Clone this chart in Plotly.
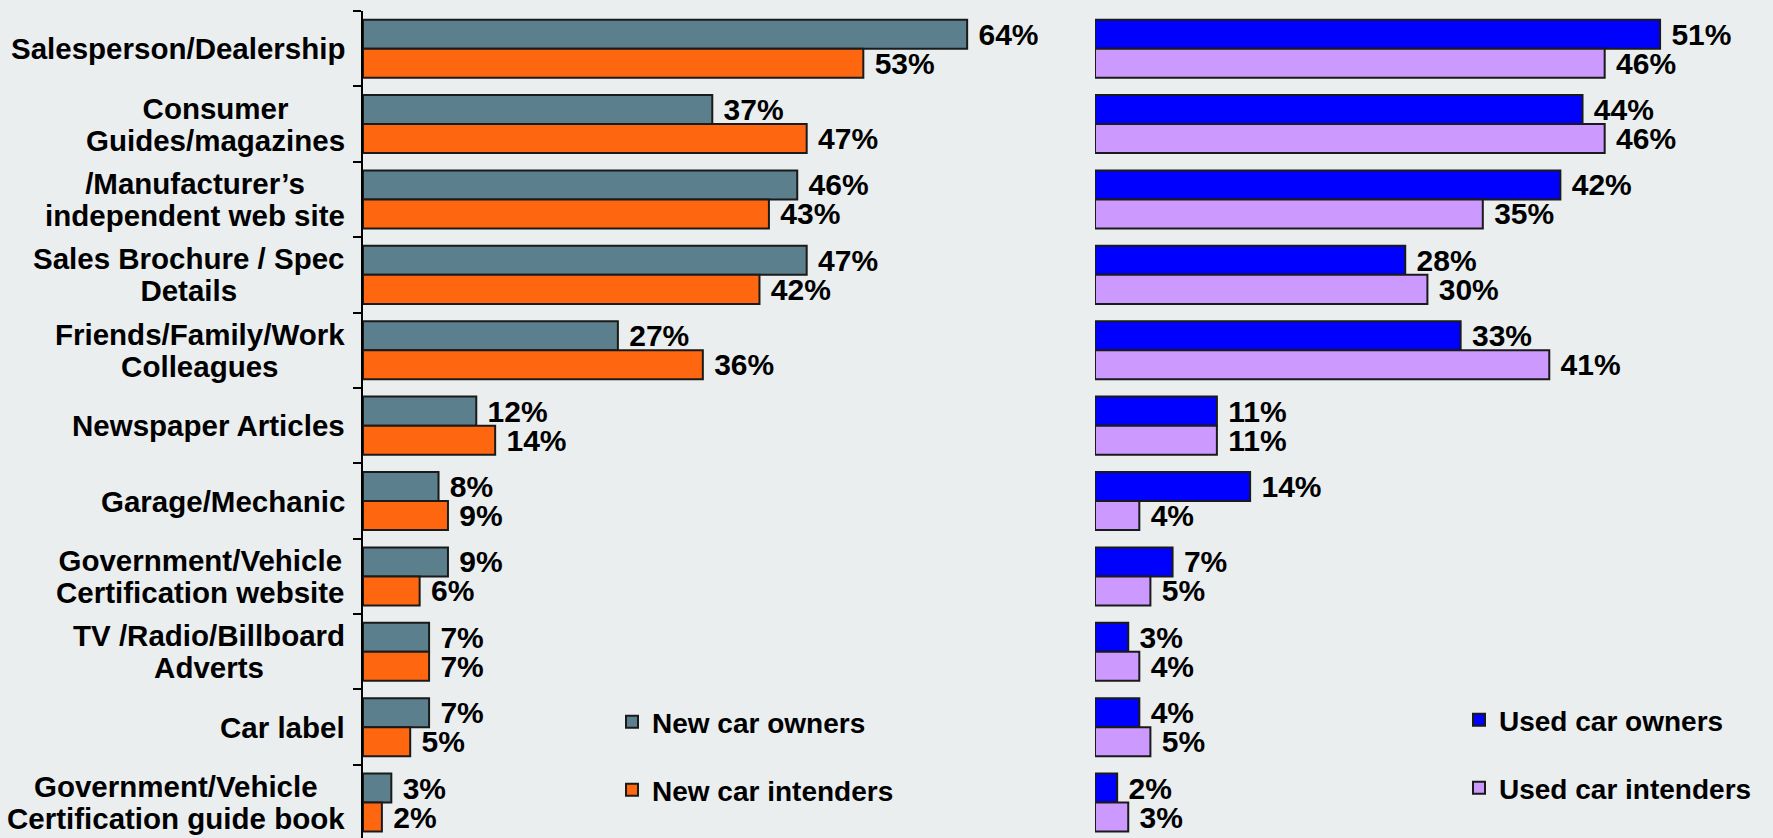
import plotly.graph_objects as go

# Information sources, top to bottom
categories = [
    "Salesperson/Dealership",
    "Consumer<br>Guides/magazines",
    "/Manufacturer\u2019s<br>independent web site",
    "Sales Brochure / Spec<br>Details",
    "Friends/Family/Work<br>Colleagues",
    "Newspaper Articles",
    "Garage/Mechanic",
    "Government/Vehicle<br>Certification website",
    "TV /Radio/Billboard<br>Adverts",
    "Car label",
    "Government/Vehicle<br>Certification guide book",
]

new_owners = [64, 37, 46, 47, 27, 12, 8, 9, 7, 7, 3]
new_intenders = [53, 47, 43, 42, 36, 14, 9, 6, 7, 5, 2]
used_owners = [51, 44, 42, 28, 33, 11, 14, 7, 3, 4, 2]
used_intenders = [46, 46, 35, 30, 41, 11, 4, 5, 4, 5, 3]

W, H = 1773, 838
TOP = 11
BG = "#EAEEEF"
FONT = "Liberation Sans"
GRAY = "#5B7F8C"
ORANGE = "#FF6610"
BLUE = "#0000FF"
LILAC = "#CC99FF"
EDGE = "#1A1A1A"


def px_x(p):
    return p / W


def px_y(p):
    return (H - p) / (H - TOP)


def bars(values, name, color, xaxis, legend):
    return go.Bar(
        y=categories,
        x=values,
        name=name,
        orientation="h",
        marker=dict(color=color, line=dict(color=EDGE, width=2)),
        text=[f" {v}%" for v in values],
        textposition="outside",
        constraintext="none",
        cliponaxis=False,
        textfont=dict(family=FONT, size=30, color="black", weight="bold"),
        xaxis=xaxis,
        yaxis="y" if xaxis == "x" else "y2",
        legend=legend,
        hoverinfo="skip",
    )


fig = go.Figure()
fig.add_trace(bars(new_owners, "New car owners", GRAY, "x", "legend"))
fig.add_trace(bars(new_intenders, "New car intenders", ORANGE, "x", "legend2"))
fig.add_trace(bars(used_owners, "Used car owners", BLUE, "x2", "legend3"))
fig.add_trace(bars(used_intenders, "Used car intenders", LILAC, "x2", "legend4"))

left_dom = [px_x(363), px_x(1080)]
right_dom = [px_x(1095), 1.0]

yrange = [10.47, -0.5]

fig.update_layout(
    width=W,
    height=H,
    margin=dict(l=0, r=0, t=TOP, b=0),
    paper_bgcolor=BG,
    plot_bgcolor=BG,
    barmode="group",
    bargap=0.23,
    bargroupgap=0,
    xaxis=dict(domain=left_dom, range=[0, (1080 - 363) / 9.44], visible=False),
    xaxis2=dict(domain=right_dom, range=[0, (W - 1095) / 11.08], visible=False, anchor="y2"),
    yaxis=dict(
        type="category",
        categoryorder="array",
        categoryarray=categories,
        range=yrange,
        showline=True,
        linecolor="black",
        linewidth=2,
        ticks="outside",
        tickson="boundaries",
        ticklen=8,
        tickwidth=2,
        tickcolor="black",
        showticklabels=False,
        showgrid=False,
        zeroline=False,
    ),
    yaxis2=dict(
        type="category",
        categoryorder="array",
        categoryarray=categories,
        range=yrange,
        anchor="x2",
        visible=False,
    ),
    showlegend=True,
)

legend_font = dict(family=FONT, size=28, color="black", weight="bold")
legend_common = dict(
    bgcolor="rgba(0,0,0,0)",
    font=legend_font,
    xanchor="left",
    yanchor="middle",
    borderwidth=0,
)
fig.update_layout(
    legend=dict(x=px_x(612), y=px_y(722), **legend_common),
    legend2=dict(x=px_x(612), y=px_y(790), **legend_common),
    legend3=dict(x=px_x(1459), y=px_y(720), **legend_common),
    legend4=dict(x=px_x(1459), y=px_y(788), **legend_common),
)

# Category labels, centred line by line and right-aligned against the axis.
# The outer font size sets the (tighter) line spacing; the inner span sets
# the glyph size.
for cat in categories:
    lines = cat.split("<br>")
    text = "<br>".join(
        f'<span style="font-size:29.5px">{ln}</span>' for ln in lines
    )
    fig.add_annotation(
        x=px_x(347),
        xref="paper",
        y=cat,
        yref="y",
        text=text,
        showarrow=False,
        xanchor="right",
        yanchor="middle",
        align="center",
        font=dict(family=FONT, size=24.4, color="black", weight="bold"),
    )

fig.write_html("out.html")
